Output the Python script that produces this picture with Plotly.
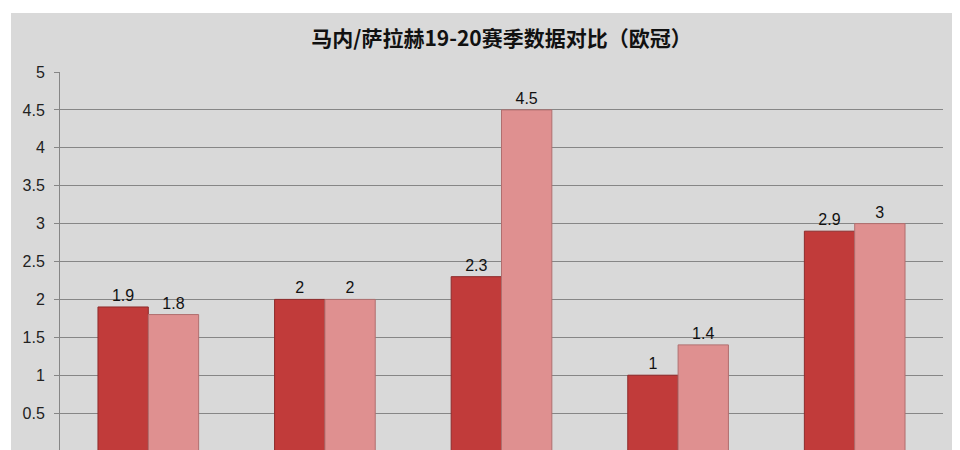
import plotly.graph_objects as go

# datos
categorias = ["项目1", "项目2", "项目3", "项目4", "项目5"]
mane = [1.9, 2, 2.3, 1, 2.9]
salah = [1.8, 2, 4.5, 1.4, 3]
titulo = "马内/萨拉赫19-20赛季数据对比（欧冠）"
ticks_y = [0, 0.5, 1, 1.5, 2, 2.5, 3, 3.5, 4, 4.5, 5]

fuente = "Liberation Sans, Noto Sans CJK SC, sans-serif"
# la pagina tiene un margen de 8px, se compensa en el tamano
W, H = 952, 450
L, R, T, B = 52, 17, 64, 7

fig = go.Figure()
fig.add_trace(go.Bar(x=categorias, y=mane, name="马内",
                     marker=dict(color="#c13b3a", line=dict(color="#8e2b2b", width=1)),
                     text=[f"{v:g}" for v in mane], textposition="outside",
                     textfont=dict(size=16, color="#111111"), cliponaxis=False))
fig.add_trace(go.Bar(x=categorias, y=salah, name="萨拉赫",
                     marker=dict(color="#df9090", line=dict(color="#b06f6f", width=1)),
                     text=[f"{v:g}" for v in salah], textposition="outside",
                     textfont=dict(size=16, color="#111111"), cliponaxis=False))

# fondo gris del grafico (recuadro)
ancho = W - L - R
alto = H - T - B
fig.add_shape(type="rect", xref="paper", yref="paper",
              x0=(3 - L) / ancho, x1=(946 - L) / ancho, y0=-0.2, y1=1 + (T - 5) / alto,
              fillcolor="#d9d9d9", line=dict(width=0), layer="below")

fig.update_layout(
    width=W, height=H,
    margin=dict(l=L, r=R, t=T, b=B),
    paper_bgcolor="white",
    plot_bgcolor="rgba(0,0,0,0)",
    barmode="group", bargap=0.43, bargroupgap=0,
    showlegend=False,
    font=dict(family=fuente, color="#222222"),
    title=dict(text="<b>" + titulo + "</b>", x=0.5, xref="paper", xanchor="center",
               y=1 - 31 / H, yanchor="middle",
               font=dict(size=21, color="#111111",
                         family="Noto Sans CJK SC, sans-serif")),
    xaxis=dict(showticklabels=False, showline=False, showgrid=False, zeroline=False,
               fixedrange=True),
    yaxis=dict(range=[0, 5], tickvals=ticks_y, ticktext=[f"{v:g}" for v in ticks_y],
               showgrid=True, gridcolor="#868686", gridwidth=1,
               zeroline=False, showline=True, linecolor="#868686", linewidth=1,
               ticks="outside", ticklen=5, tickcolor="#868686", ticklabelstandoff=6,
               tickfont=dict(size=16, color="#222222"), fixedrange=True),
)

fig.write_html("out.html")
